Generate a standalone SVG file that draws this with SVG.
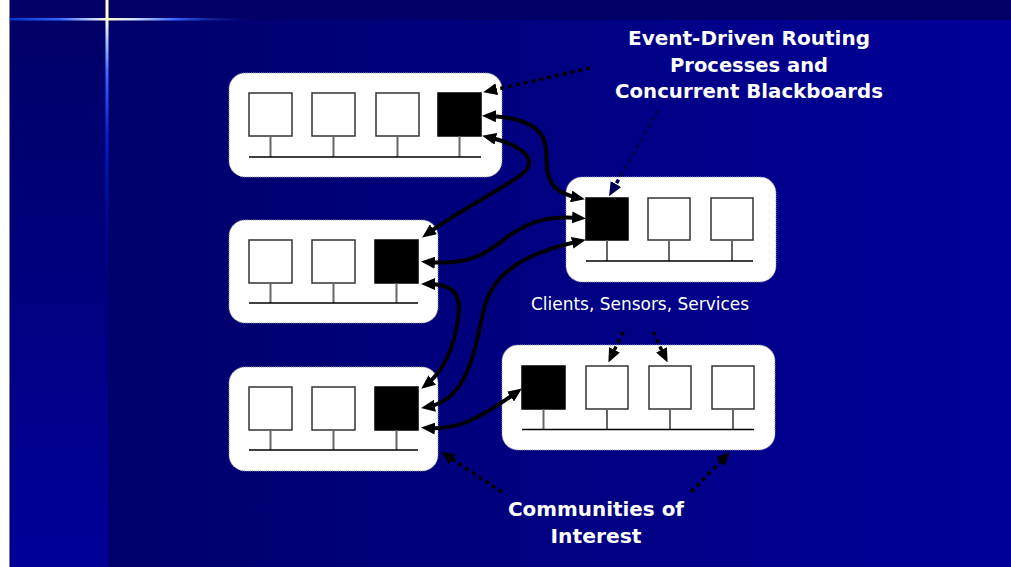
<svg xmlns="http://www.w3.org/2000/svg" width="1011" height="567" viewBox="0 0 1011 567">
  <defs>
    <linearGradient id="mainBg" x1="0" y1="0" x2="1" y2="0">
      <stop offset="0" stop-color="#000066"/>
      <stop offset="1" stop-color="#000099"/>
    </linearGradient>
    <linearGradient id="sideBg" x1="0" y1="0" x2="0" y2="1">
      <stop offset="0" stop-color="#000066"/>
      <stop offset="1" stop-color="#000099"/>
    </linearGradient>
    <linearGradient id="flareH" gradientUnits="userSpaceOnUse" x1="10" y1="0" x2="260" y2="0">
      <stop offset="0" stop-color="#0033cc"/>
      <stop offset="0.2" stop-color="#3366ff"/>
      <stop offset="0.34" stop-color="#ccddff"/>
      <stop offset="0.39" stop-color="#ffffcc"/>
      <stop offset="0.5" stop-color="#ccddff"/>
      <stop offset="0.66" stop-color="#3366ff"/>
      <stop offset="1" stop-color="#000066" stop-opacity="0"/>
    </linearGradient>
    <linearGradient id="flareV" gradientUnits="userSpaceOnUse" x1="0" y1="0" x2="0" y2="300">
      <stop offset="0" stop-color="#ffffcc"/>
      <stop offset="0.07" stop-color="#ffffcc"/>
      <stop offset="0.13" stop-color="#aaccff"/>
      <stop offset="0.25" stop-color="#3366ff"/>
      <stop offset="0.45" stop-color="#0022cc"/>
      <stop offset="1" stop-color="#000099" stop-opacity="0"/>
    </linearGradient>
    <marker id="head" viewBox="0 0 14 12" markerWidth="14" markerHeight="12" refX="8" refY="6" orient="auto-start-reverse" markerUnits="userSpaceOnUse">
      <path d="M0,0 L14,6 L0,12 z" fill="#000"/>
    </marker>
    <marker id="headNavy" viewBox="0 0 14 12" markerWidth="14" markerHeight="12" refX="8" refY="6" orient="auto" markerUnits="userSpaceOnUse">
      <path d="M0,0 L14,6 L0,12 z" fill="#000055"/>
    </marker>
  </defs>
  <style>
    .panel { fill: #ffffff; stroke: #9a9aa8; stroke-width: 1; stroke-dasharray: 1 1; }
    .dev { fill: #ffffff; stroke: #333333; stroke-width: 1.5; }
    .router { fill: #000000; stroke: #000000; stroke-width: 1.5; }
    .stem { stroke: #666666; stroke-width: 2; }
    .bus { stroke: #000000; stroke-width: 1.5; }
    .link { fill: none; stroke: #000000; stroke-width: 4; stroke-linecap: butt; marker-start: url(#head); marker-end: url(#head); }
    .pointer { fill: none; stroke: #000000; stroke-width: 3.5; stroke-dasharray: 4 4; marker-end: url(#head); }
    .pointer-navy { fill: none; stroke: #000055; stroke-width: 3.5; stroke-dasharray: 4 4; marker-end: url(#headNavy); }
    .title { font-family: "DejaVu Sans", Verdana, sans-serif; font-weight: bold; font-size: 20px; fill: #ffffff; text-anchor: middle; }
    .caption { font-family: "DejaVu Sans", Verdana, sans-serif; font-size: 18px; fill: #ffffff; text-anchor: middle; }
  </style>

  <!-- slide background -->
  <rect x="0" y="0" width="1011" height="567" fill="#ffffff"/>
  <rect x="10" y="0" width="1001" height="567" fill="url(#mainBg)"/>
  <rect x="10" y="20" width="98" height="547" fill="url(#sideBg)"/>
  <rect x="10" y="0" width="1001" height="20" fill="#000066"/>
  <line x1="9.5" y1="0" x2="9.5" y2="567" stroke="#7f7f7f" stroke-width="1"/>
  <rect x="10" y="18" width="250" height="2.5" fill="url(#flareH)"/>
  <rect x="105.5" y="0" width="3" height="300" fill="url(#flareV)"/>

  <!-- node: top-left community -->
  <g id="community-1">
    <rect class="panel" x="229" y="73" width="273" height="104" rx="16"/>
    <rect class="dev" x="249" y="93" width="43" height="43"/>
    <rect class="dev" x="312" y="93" width="43" height="43"/>
    <rect class="dev" x="376" y="93" width="43" height="43"/>
    <rect class="router" x="438" y="93" width="43" height="43"/>
    <line class="stem" x1="270.5" y1="136" x2="270.5" y2="157"/>
    <line class="stem" x1="333.5" y1="136" x2="333.5" y2="157"/>
    <line class="stem" x1="397.5" y1="136" x2="397.5" y2="157"/>
    <line class="stem" x1="459.5" y1="136" x2="459.5" y2="157"/>
    <line class="bus" x1="249" y1="157" x2="481" y2="157"/>
  </g>

  <!-- node: middle-left community -->
  <g id="community-2">
    <rect class="panel" x="229" y="220" width="209" height="103" rx="16"/>
    <rect class="dev" x="249" y="240" width="43" height="43"/>
    <rect class="dev" x="312" y="240" width="43" height="43"/>
    <rect class="router" x="375" y="240" width="43" height="43"/>
    <line class="stem" x1="270.5" y1="283" x2="270.5" y2="303"/>
    <line class="stem" x1="333.5" y1="283" x2="333.5" y2="303"/>
    <line class="stem" x1="396.5" y1="283" x2="396.5" y2="303"/>
    <line class="bus" x1="249" y1="303" x2="418" y2="303"/>
  </g>

  <!-- node: bottom-left community -->
  <g id="community-3">
    <rect class="panel" x="229" y="367" width="209" height="104" rx="16"/>
    <rect class="dev" x="249" y="387" width="43" height="43"/>
    <rect class="dev" x="312" y="387" width="43" height="43"/>
    <rect class="router" x="375" y="387" width="43" height="43"/>
    <line class="stem" x1="270.5" y1="430" x2="270.5" y2="450"/>
    <line class="stem" x1="333.5" y1="430" x2="333.5" y2="450"/>
    <line class="stem" x1="396.5" y1="430" x2="396.5" y2="450"/>
    <line class="bus" x1="249" y1="450" x2="418" y2="450"/>
  </g>

  <!-- node: right-middle community -->
  <g id="community-4">
    <rect class="panel" x="566" y="177" width="210" height="105" rx="16"/>
    <rect class="router" x="586" y="198" width="42" height="42"/>
    <rect class="dev" x="648" y="198" width="42" height="42"/>
    <rect class="dev" x="711" y="198" width="42" height="42"/>
    <line class="stem" x1="607" y1="240" x2="607" y2="261"/>
    <line class="stem" x1="669" y1="240" x2="669" y2="261"/>
    <line class="stem" x1="732" y1="240" x2="732" y2="261"/>
    <line class="bus" x1="586" y1="261" x2="753" y2="261"/>
  </g>

  <!-- node: bottom-right community -->
  <g id="community-5">
    <rect class="panel" x="502" y="345" width="273" height="105" rx="16"/>
    <rect class="router" x="522" y="366" width="43" height="43"/>
    <rect class="dev" x="586" y="366" width="42" height="43"/>
    <rect class="dev" x="649" y="366" width="42" height="43"/>
    <rect class="dev" x="712" y="366" width="42" height="43"/>
    <line class="stem" x1="543.5" y1="409" x2="543.5" y2="429.5"/>
    <line class="stem" x1="607" y1="409" x2="607" y2="429.5"/>
    <line class="stem" x1="670" y1="409" x2="670" y2="429.5"/>
    <line class="stem" x1="733" y1="409" x2="733" y2="429.5"/>
    <line class="bus" x1="522" y1="429.5" x2="754" y2="429.5"/>
  </g>

  <!-- connectors -->
  <g id="connectors">
    <path class="link" d="M488,116 C520,117 545,125 546,150 C547,178 548,192 579,198"/>
    <path class="link" d="M488,137 C522,145 540,160 522,174 C498,192 460,210 427,234"/>
    <path class="link" d="M427,262 C475,266 490,250 510,235 C535,218 555,216 580,218"/>
    <path class="link" d="M427,284 C455,284 462,295 458,320 C454,345 445,370 426,385"/>
    <path class="link" d="M580,241 C530,252 495,270 485,305 C475,345 470,400 427,407"/>
    <path class="link" d="M427,428 C455,430 475,422 517,392"/>

    <path class="pointer" d="M590,68 L489,91"/>
    <path class="pointer-navy" d="M658,110 L612,191"/>
    <path class="pointer" d="M623,332 L611,357"/>
    <path class="pointer" d="M653,332 L665,357"/>
    <path class="pointer" d="M502,492 L446,455"/>
    <path class="pointer" d="M691,492 L726,456"/>
  </g>

  <!-- labels -->
  <g id="labels">
    <text class="title" x="749" y="45" textLength="242" lengthAdjust="spacingAndGlyphs">Event-Driven Routing</text>
    <text class="title" x="749" y="72" textLength="158" lengthAdjust="spacingAndGlyphs">Processes and</text>
    <text class="title" x="749" y="98" textLength="268" lengthAdjust="spacingAndGlyphs">Concurrent Blackboards</text>
    <text class="caption" x="640" y="310" textLength="218" lengthAdjust="spacingAndGlyphs">Clients, Sensors, Services</text>
    <text class="title" x="596" y="516" textLength="176" lengthAdjust="spacingAndGlyphs">Communities of</text>
    <text class="title" x="596" y="543" textLength="91" lengthAdjust="spacingAndGlyphs">Interest</text>
  </g>
</svg>
